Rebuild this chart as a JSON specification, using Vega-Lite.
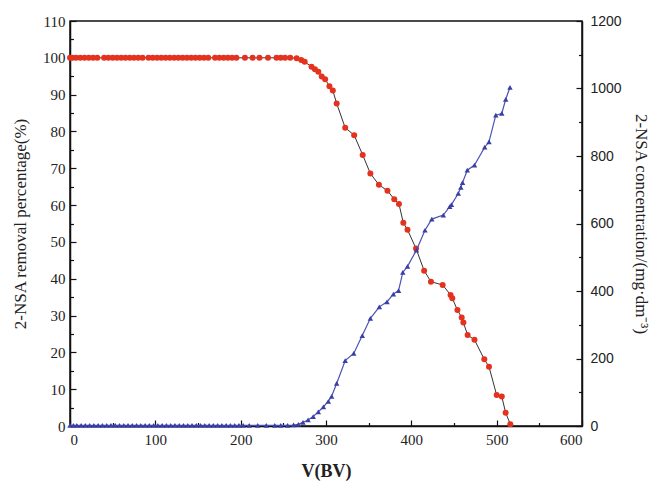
{
  "$schema": "https://vega.github.io/schema/vega-lite/v6.json",
  "width": 512,
  "height": 405,
  "autosize": "none",
  "padding": {"left": 70, "top": 21, "right": 69, "bottom": 57},
  "background": "white",
  "config": {
    "view": {"stroke": "#111", "strokeWidth": 1.5},
    "axis": {"grid": false, "domainColor": "#111", "domainWidth": 1.5, "tickColor": "#111", "tickWidth": 1.2, "labelColor": "#222", "titleColor": "#222", "titleFontWeight": "normal"}
  },
  "datasets": {
    "removal": [
      {"v": 0, "p": 100}, {"v": 3, "p": 100}, {"v": 7, "p": 100}, {"v": 12, "p": 100}, {"v": 17, "p": 100}, {"v": 22, "p": 100}, {"v": 27, "p": 100}, {"v": 32, "p": 100}, {"v": 40, "p": 100}, {"v": 45, "p": 100}, {"v": 50, "p": 100}, {"v": 55, "p": 100}, {"v": 60, "p": 100}, {"v": 65, "p": 100}, {"v": 70, "p": 100}, {"v": 75, "p": 100}, {"v": 80, "p": 100}, {"v": 85, "p": 100}, {"v": 92, "p": 100}, {"v": 97, "p": 100}, {"v": 102, "p": 100}, {"v": 107, "p": 100}, {"v": 112, "p": 100}, {"v": 117, "p": 100}, {"v": 122, "p": 100}, {"v": 127, "p": 100}, {"v": 132, "p": 100}, {"v": 137, "p": 100}, {"v": 142, "p": 100}, {"v": 147, "p": 100}, {"v": 152, "p": 100}, {"v": 157, "p": 100}, {"v": 162, "p": 100}, {"v": 170, "p": 100}, {"v": 175, "p": 100}, {"v": 180, "p": 100}, {"v": 185, "p": 100}, {"v": 190, "p": 100}, {"v": 195, "p": 100}, {"v": 205, "p": 100}, {"v": 214, "p": 100}, {"v": 222, "p": 100}, {"v": 232, "p": 100}, {"v": 242, "p": 100}, {"v": 247, "p": 100}, {"v": 252, "p": 100}, {"v": 258, "p": 100},
      {"v": 265.6, "p": 99.9}, {"v": 271, "p": 99.4}, {"v": 275, "p": 98.9}, {"v": 283, "p": 97.6}, {"v": 287, "p": 96.9}, {"v": 291, "p": 96.2}, {"v": 295, "p": 94.9}, {"v": 299, "p": 94.2}, {"v": 304, "p": 92.3}, {"v": 308, "p": 91.1}, {"v": 312.5, "p": 87.6}, {"v": 322.5, "p": 81}, {"v": 333, "p": 79}, {"v": 343, "p": 73.6}, {"v": 352, "p": 68.6}, {"v": 362, "p": 65.5}, {"v": 372, "p": 63.9}, {"v": 380, "p": 61.6}, {"v": 385.5, "p": 60.3}, {"v": 390.6, "p": 55.2}, {"v": 395.5, "p": 53.3}, {"v": 405.5, "p": 48.2}, {"v": 415, "p": 42.2}, {"v": 423, "p": 39.2}, {"v": 436.7, "p": 38.3}, {"v": 446, "p": 35.6}, {"v": 448, "p": 34.7}, {"v": 454, "p": 31.5}, {"v": 459, "p": 29.5}, {"v": 461, "p": 28.1}, {"v": 466, "p": 24.7}, {"v": 474, "p": 23.4}, {"v": 485.5, "p": 18.1}, {"v": 491, "p": 16.1}, {"v": 500, "p": 8.4}, {"v": 506, "p": 8.0}, {"v": 510.5, "p": 3.6}, {"v": 516, "p": 0.5}
    ],
    "conc": [
      {"v": 0, "c": 2}, {"v": 4, "c": 2}, {"v": 8, "c": 2}, {"v": 13, "c": 2}, {"v": 18, "c": 2}, {"v": 23, "c": 2}, {"v": 28, "c": 2}, {"v": 33, "c": 2}, {"v": 38, "c": 2}, {"v": 43, "c": 2}, {"v": 48, "c": 2}, {"v": 53, "c": 2}, {"v": 58, "c": 2}, {"v": 63, "c": 2}, {"v": 68, "c": 2}, {"v": 73, "c": 2}, {"v": 78, "c": 2}, {"v": 83, "c": 2}, {"v": 88, "c": 2}, {"v": 93, "c": 2}, {"v": 98, "c": 2}, {"v": 103, "c": 2}, {"v": 108, "c": 2}, {"v": 113, "c": 2}, {"v": 118, "c": 2}, {"v": 123, "c": 2}, {"v": 128, "c": 2}, {"v": 133, "c": 2}, {"v": 138, "c": 2}, {"v": 143, "c": 2}, {"v": 148, "c": 2}, {"v": 153, "c": 2}, {"v": 158, "c": 2}, {"v": 163, "c": 2}, {"v": 168, "c": 2}, {"v": 173, "c": 2}, {"v": 178, "c": 2}, {"v": 183, "c": 2}, {"v": 188, "c": 2}, {"v": 193, "c": 2}, {"v": 198, "c": 2}, {"v": 203, "c": 2}, {"v": 210, "c": 2}, {"v": 220, "c": 2}, {"v": 230, "c": 2}, {"v": 240, "c": 2}, {"v": 247, "c": 2}, {"v": 255, "c": 2}, {"v": 262, "c": 3}, {"v": 267.6, "c": 5},
      {"v": 273, "c": 11}, {"v": 279, "c": 18}, {"v": 285, "c": 28}, {"v": 291, "c": 42}, {"v": 297, "c": 57}, {"v": 302.7, "c": 73}, {"v": 306.6, "c": 88}, {"v": 312.5, "c": 126}, {"v": 322.5, "c": 194}, {"v": 332.5, "c": 215}, {"v": 342.5, "c": 268}, {"v": 352, "c": 319}, {"v": 362.5, "c": 353}, {"v": 371.5, "c": 368}, {"v": 379, "c": 391}, {"v": 385, "c": 401}, {"v": 390, "c": 455}, {"v": 395.5, "c": 473}, {"v": 406, "c": 521}, {"v": 416, "c": 580}, {"v": 424, "c": 613}, {"v": 437.5, "c": 625}, {"v": 445, "c": 650}, {"v": 447, "c": 656}, {"v": 455, "c": 689}, {"v": 458, "c": 707}, {"v": 460, "c": 721}, {"v": 465.6, "c": 758}, {"v": 474, "c": 773}, {"v": 486, "c": 826}, {"v": 491, "c": 842}, {"v": 499, "c": 921}, {"v": 506, "c": 926}, {"v": 510.6, "c": 968}, {"v": 515.6, "c": 1003}
    ]
  },
  "encoding": {
    "x": {
      "field": "v", "type": "quantitative",
      "scale": {"domain": [0, 600], "nice": false, "zero": false},
      "axis": {
        "values": [0, 50, 100, 150, 200, 250, 300, 350, 400, 450, 500, 550, 600],
        "format": "d",
        "labelExpr": "datum.value % 100 === 0 ? datum.label : ''",
        "tickSize": {"condition": {"test": "datum.value % 100 === 0", "value": -6}, "value": -3.5},
        "labelPadding": 12,
        "labelFont": "Liberation Serif", "labelFontSize": 15,
        "title": "V(BV)", "titleFont": "Liberation Serif", "titleFontSize": 18, "titleFontWeight": "bold", "titlePadding": 15
      }
    }
  },
  "layer": [
    {
      "data": {"name": "removal"},
      "encoding": {
        "y": {
          "field": "p", "type": "quantitative",
          "scale": {"domain": [0, 110], "nice": false},
          "axis": {
            "values": [0, 5, 10, 15, 20, 25, 30, 35, 40, 45, 50, 55, 60, 65, 70, 75, 80, 85, 90, 95, 100, 105, 110],
            "format": "d",
            "labelExpr": "datum.value % 10 === 0 ? datum.label : ''",
            "tickSize": {"condition": {"test": "datum.value % 10 === 0", "value": -6}, "value": -3.5},
            "labelPadding": 11,
            "labelFont": "Liberation Serif", "labelFontSize": 15,
            "title": "2-NSA removal percentage(%)", "titleFont": "Liberation Serif", "titleFontSize": 17, "titlePadding": 13
          }
        }
      },
      "layer": [
        {"mark": {"type": "line", "color": "#333", "strokeWidth": 1}},
        {"mark": {"type": "point", "shape": "circle", "filled": true, "opacity": 1, "size": 36, "color": "#e5321e"}}
      ]
    },
    {
      "data": {"name": "conc"},
      "encoding": {
        "y": {
          "field": "c", "type": "quantitative",
          "scale": {"domain": [0, 1200], "nice": false},
          "axis": {
            "orient": "right",
            "values": [0, 100, 200, 300, 400, 500, 600, 700, 800, 900, 1000, 1100, 1200],
            "format": "d",
            "labelExpr": "datum.value % 200 === 0 ? datum.label : ''",
            "tickSize": {"condition": {"test": "datum.value % 200 === 0", "value": -6}, "value": -3.5},
            "labelPadding": 14,
            "labelFont": "Liberation Sans", "labelFontSize": 14,
            "title": "2-NSA concentration/(mg·dm⁻³)", "titleFont": "Liberation Serif", "titleFontSize": 17, "titlePadding": 10
          }
        }
      },
      "layer": [
        {"mark": {"type": "line", "color": "#4a52b5", "strokeWidth": 1.2}},
        {"mark": {"type": "point", "shape": "triangle-up", "filled": true, "opacity": 1, "size": 30, "color": "#3a3fa3"}}
      ]
    }
  ],
  "resolve": {"scale": {"y": "independent"}}
}
